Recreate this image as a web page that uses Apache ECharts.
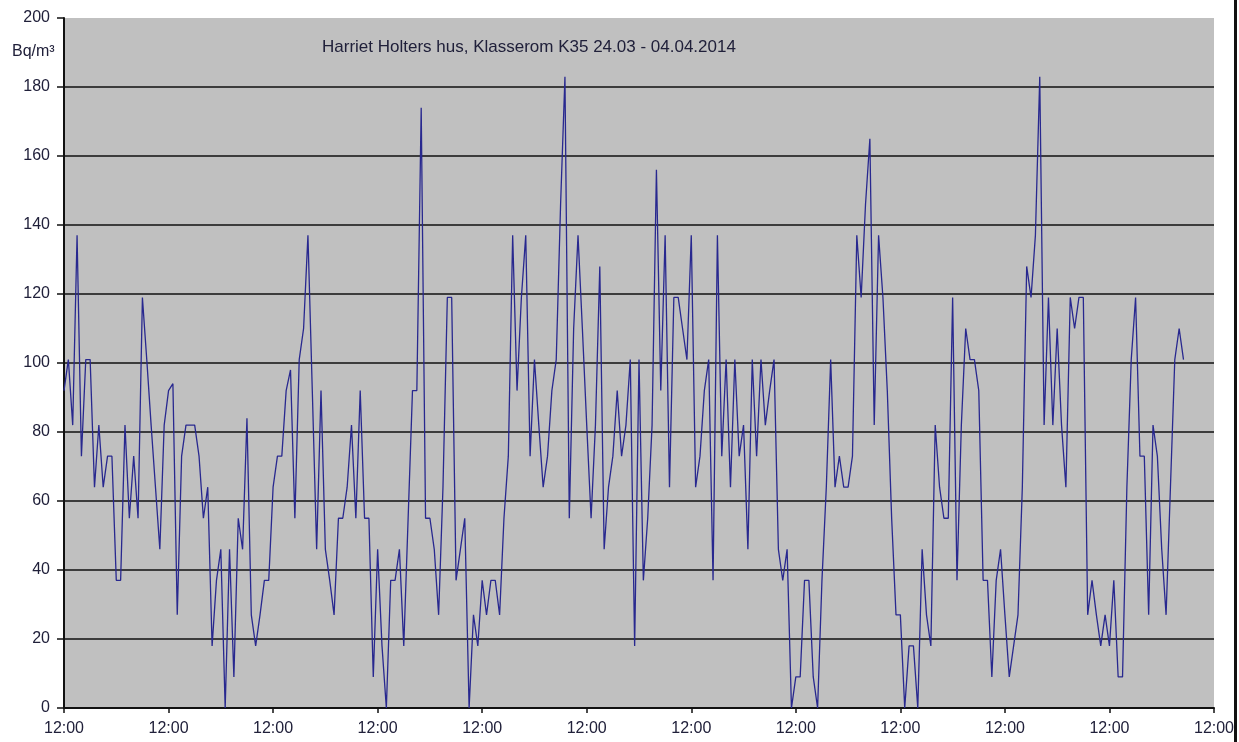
<!DOCTYPE html>
<html>
<head>
<meta charset="utf-8">
<script src="https://cdn.jsdelivr.net/npm/echarts@6/dist/echarts.min.js"></script>
<style>
  html, body { margin: 0; padding: 0; background: #fff; }
  #chart { width: 1239px; height: 742px; }
</style>
</head>
<body>
<div id="chart"></div>
<script>
// radon, Bq/m3, one reading per hour from 24.03 12:00
var radon = [
  92, 101, 82, 137, 73, 101, 101, 64, 82, 64, 73, 73, 37, 37, 82, 55, 73, 55, 119, 101, 82, 64, 46, 82,
  92, 94, 27, 73, 82, 82, 82, 73, 55, 64, 18, 37, 46, 0, 46, 9, 55, 46, 84, 27, 18, 27, 37, 37,
  64, 73, 73, 92, 98, 55, 101, 110, 137, 92, 46, 92, 46, 37, 27, 55, 55, 64, 82, 55, 92, 55, 55, 9,
  46, 18, 0, 37, 37, 46, 18, 55, 92, 92, 174, 55, 55, 46, 27, 64, 119, 119, 37, 46, 55, 0, 27, 18,
  37, 27, 37, 37, 27, 55, 73, 137, 92, 119, 137, 73, 101, 82, 64, 73, 92, 101, 146, 183, 55, 110, 137, 110,
  82, 55, 82, 128, 46, 64, 73, 92, 73, 82, 101, 18, 101, 37, 55, 82, 156, 92, 137, 64, 119, 119, 110, 101,
  137, 64, 73, 92, 101, 37, 137, 73, 101, 64, 101, 73, 82, 46, 101, 73, 101, 82, 92, 101, 46, 37, 46, 0,
  9, 9, 37, 37, 9, 0, 37, 64, 101, 64, 73, 64, 64, 73, 137, 119, 146, 165, 82, 137, 119, 92, 55, 27,
  27, 0, 18, 18, 0, 46, 27, 18, 82, 64, 55, 55, 119, 37, 82, 110, 101, 101, 92, 37, 37, 9, 37, 46,
  27, 9, 18, 27, 64, 128, 119, 137, 183, 82, 119, 82, 110, 82, 64, 119, 110, 119, 119, 27, 37, 27, 18, 27,
  18, 37, 9, 9, 64, 101, 119, 73, 73, 27, 82, 73, 46, 27, 64, 101, 110, 101
];
var hoursPerTick = 24;
var totalHours = 264;
var tickLabel = '12:00';
var yTicks = [0, 20, 40, 60, 80, 100, 120, 140, 160, 180, 200];

var titleText = 'Harriet Holters hus, Klasserom K35 24.03 - 04.04.2014';
var unitText = 'Bq/m\u00b3';

var myChart = echarts.init(document.getElementById('chart'));

var seriesData = radon.map(function (v, i) { return [i, v]; });

var font = 'Liberation Sans, Arial, sans-serif';
var textColor = '#20203a';

var option = {
    animation: false,
    backgroundColor: '#ffffff',
    title: {
        text: titleText,
        left: 317,
        top: 34,
        textStyle: { fontFamily: font, fontSize: 17, fontWeight: 'normal', color: textColor }
    },
    graphic: [
        {
            type: 'text',
            left: 12,
            top: 44,
            style: { text: unitText, font: '16px ' + font, fill: textColor }
        },
        {
            type: 'rect',
            right: 2,
            top: 0,
            shape: { width: 3, height: 742 },
            style: { fill: '#111' }
        }
    ],
    grid: {
        left: 64,
        right: 25,
        top: 18,
        bottom: 34,
        show: true,
        backgroundColor: '#c0c0c0',
        borderWidth: 0
    },
    xAxis: {
        type: 'value',
        min: 0,
        max: totalHours,
        interval: hoursPerTick,
        axisLine: { show: true, onZero: false, lineStyle: { color: '#111', width: 2 } },
        axisTick: { show: true, inside: false, length: 5, lineStyle: { color: '#111', width: 1.5 } },
        axisLabel: {
            margin: 13,
            fontFamily: font,
            fontSize: 16,
            color: textColor,
            formatter: function () { return tickLabel; }
        },
        splitLine: { show: false }
    },
    yAxis: {
        type: 'value',
        min: yTicks[0],
        max: yTicks[yTicks.length - 1],
        interval: yTicks[1] - yTicks[0],
        axisLine: { show: true, lineStyle: { color: '#111', width: 2 } },
        axisTick: { show: true, inside: false, length: 7, lineStyle: { color: '#111', width: 1.5 } },
        axisLabel: {
            margin: 14,
            fontFamily: font,
            fontSize: 16,
            color: textColor
        },
        splitLine: {
            show: true,
            showMaxLine: false,
            lineStyle: { color: '#111', width: 1.5 }
        }
    },
    series: [{
        type: 'line',
        data: seriesData,
        showSymbol: false,
        symbol: 'none',
        lineStyle: { color: '#28288f', width: 1.3 },
        z: 5
    }]
};

myChart.setOption(option);
</script>
</body>
</html>
